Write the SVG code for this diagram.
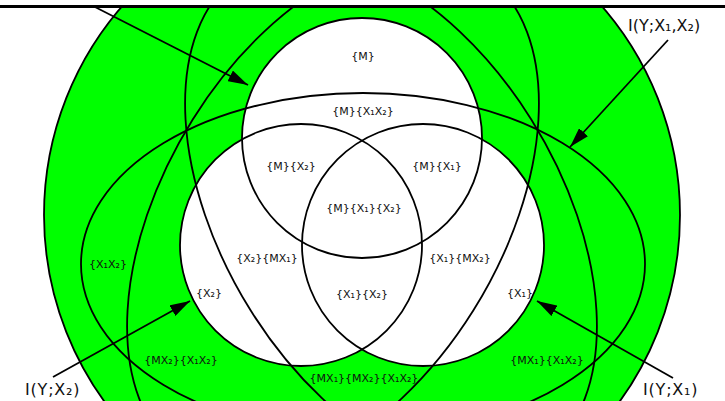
<svg xmlns="http://www.w3.org/2000/svg" width="725" height="401" viewBox="0 0 725 401">
<style>
.ln{fill:none;stroke:#000;stroke-width:1.8}
.wf{fill:#fff;stroke:none}
.sk{fill:none;stroke:#000;stroke-width:1.8;vector-effect:non-scaling-stroke}
.lb{font-family:"DejaVu Sans",sans-serif;font-size:11px;fill:#111;text-anchor:middle}
.big{font-family:"DejaVu Sans",sans-serif;font-size:16px;letter-spacing:0.8px;fill:#111}
.ar{fill:none;stroke:#000;stroke-width:1.8}
</style>
<defs>
<marker id="ah" markerUnits="userSpaceOnUse" markerWidth="20" markerHeight="12" refX="20" refY="6" orient="auto">
<path d="M0,0 L20,6 L0,12 Z" fill="#000"/>
</marker>
</defs>
<rect x="0" y="0" width="725" height="401" fill="#fff"/>
<g id="outer-Y">
<circle cx="362" cy="215" r="318" fill="#00ff00" stroke="#000" stroke-width="1.8"/>
</g>
<g id="white-fills">
<circle class="wf" cx="362" cy="138" r="120"/>
<circle class="wf" cx="301" cy="245" r="121"/>
<circle class="wf" cx="423" cy="245" r="121"/>
</g>
<g id="circle-M"><circle class="ln" cx="362" cy="138" r="120"/></g>
<g id="circle-X2"><circle class="ln" cx="301" cy="245" r="121"/></g>
<g id="circle-X1"><circle class="ln" cx="423" cy="245" r="121"/></g>
<g id="ellipse-X1X2"><ellipse class="ln" cx="363" cy="264" rx="282" ry="171"/></g>
<g id="ellipse-MX1"><ellipse class="sk" cx="0" cy="0" rx="186" ry="259" transform="translate(391 215) skewX(18.83)"/></g>
<g id="ellipse-MX2"><ellipse class="sk" cx="0" cy="0" rx="186" ry="259" transform="translate(333 215) skewX(-18.83)"/></g>
<g id="connectors">
<line class="ar" x1="95" y1="7" x2="248" y2="85" marker-end="url(#ah)"/>
<line class="ar" x1="668" y1="40" x2="570" y2="147" marker-end="url(#ah)"/>
<line class="ar" x1="53" y1="377" x2="190" y2="301" marker-end="url(#ah)"/>
<line class="ar" x1="673" y1="378" x2="537" y2="301" marker-end="url(#ah)"/>
</g>
<g id="labels">
<text class="lb" x="363" y="60">{M}</text>
<text class="lb" x="363" y="115">{M}{X₁X₂}</text>
<text class="lb" x="291" y="169.5">{M}{X₂}</text>
<text class="lb" x="437" y="169.5">{M}{X₁}</text>
<text class="lb" x="364" y="211.5">{M}{X₁}{X₂}</text>
<text class="lb" x="267" y="261.5">{X₂}{MX₁}</text>
<text class="lb" x="460" y="261.5">{X₁}{MX₂}</text>
<text class="lb" x="362" y="297.5">{X₁}{X₂}</text>
<text class="lb" x="209" y="296.5">{X₂}</text>
<text class="lb" x="520" y="296.5">{X₁}</text>
<text class="lb" x="108" y="267.5">{X₁X₂}</text>
<text class="lb" x="181" y="363.5">{MX₂}{X₁X₂}</text>
<text class="lb" x="547" y="363.5">{MX₁}{X₁X₂}</text>
<text class="lb" x="364" y="381.5">{MX₁}{MX₂}{X₁X₂}</text>
<text class="big" x="628" y="31" style="letter-spacing:0">I(Y;X₁,X₂)</text>
<text class="big" x="25" y="395">I(Y;X₂)</text>
<text class="big" x="643" y="395">I(Y;X₁)</text>
</g>
<rect x="0" y="0" width="725" height="5" fill="#fff"/>
<rect x="0" y="5" width="725" height="3" fill="#000"/>
</svg>
